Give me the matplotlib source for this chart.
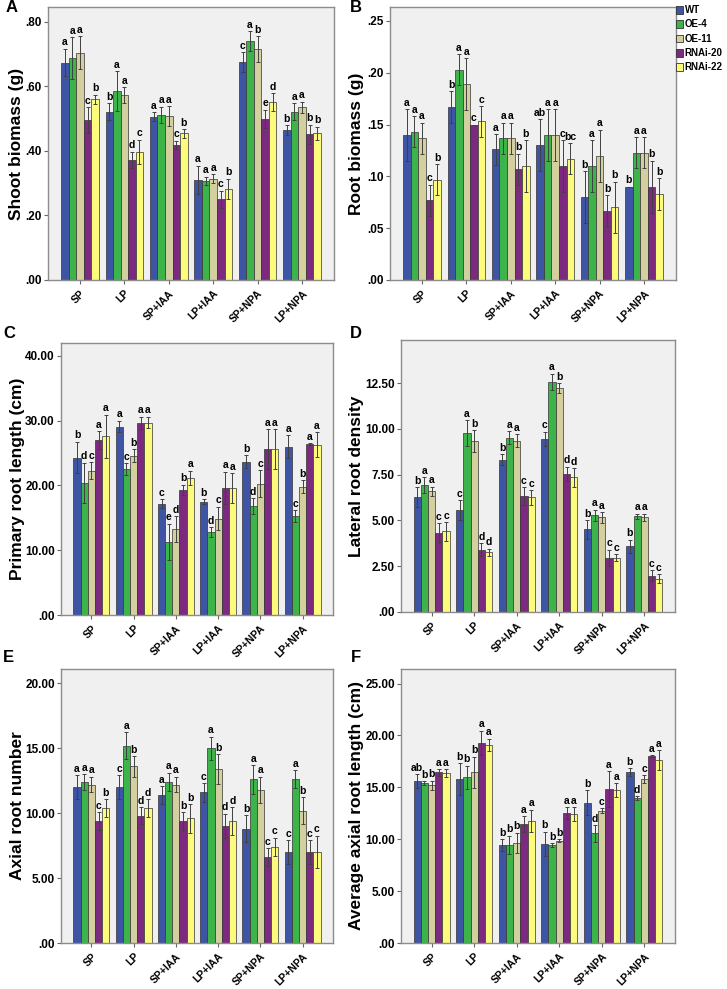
import numpy as np
import matplotlib
matplotlib.use("Agg")
import matplotlib.pyplot as plt
from matplotlib.ticker import FuncFormatter
from matplotlib.patches import Patch

plt.rcParams["font.family"] = ["Liberation Sans", "DejaVu Sans"]
plt.rcParams["font.weight"] = "bold"

groups = ["SP", "LP", "SP+IAA", "LP+IAA", "SP+NPA", "LP+NPA"]
lines = ["WT", "OE-4", "OE-11", "RNAi-20", "RNAi-22"]
colors = ["#3e55a6", "#3cb449", "#d4cf9e", "#7c2a7f", "#fcfb7c"]

# rows = treatment groups, columns = lines
shoot_mean = [[0.673, 0.686, 0.704, 0.495, 0.559],
              [0.521, 0.585, 0.572, 0.372, 0.397],
              [0.505, 0.511, 0.508, 0.418, 0.454],
              [0.310, 0.307, 0.314, 0.250, 0.283],
              [0.675, 0.739, 0.715, 0.499, 0.550],
              [0.464, 0.521, 0.534, 0.451, 0.454]]
shoot_err = [[0.043, 0.065, 0.050, 0.040, 0.014],
             [0.026, 0.062, 0.025, 0.025, 0.037],
             [0.014, 0.026, 0.030, 0.013, 0.013],
             [0.044, 0.013, 0.014, 0.026, 0.031],
             [0.031, 0.031, 0.039, 0.028, 0.028],
             [0.015, 0.026, 0.018, 0.030, 0.020]]
shoot_sig = [["a", "a", "a", "c", "b"], ["b", "a", "a", "d", "c"],
             ["a", "a", "a", "c", "b"], ["a", "a", "a", "c", "b"],
             ["c", "a", "b", "e", "d"], ["b", "a", "a", "b", "b"]]

root_mean = [[0.140, 0.143, 0.137, 0.077, 0.097],
             [0.167, 0.203, 0.189, 0.150, 0.153],
             [0.126, 0.137, 0.137, 0.107, 0.110],
             [0.130, 0.140, 0.140, 0.110, 0.117],
             [0.080, 0.110, 0.120, 0.067, 0.070],
             [0.090, 0.123, 0.123, 0.090, 0.083]]
root_err = [[0.025, 0.015, 0.015, 0.015, 0.015],
            [0.015, 0.015, 0.025, 0.000, 0.015],
            [0.015, 0.015, 0.015, 0.015, 0.025],
            [0.025, 0.025, 0.025, 0.025, 0.015],
            [0.025, 0.025, 0.025, 0.015, 0.025],
            [0.000, 0.015, 0.015, 0.025, 0.015]]
root_sig = [["a", "a", "a", "c", "b"], ["b", "a", "a", "c", "c"],
            ["a", "a", "a", "b", "b"], ["ab", "a", "a", "c", "bc"],
            ["b", "a", "a", "b", "b"], ["b", "a", "a", "b", "b"]]

primary_mean = [[24.3, 20.4, 22.3, 27.0, 27.6],
                [29.1, 22.5, 24.6, 29.65, 29.7],
                [17.2, 11.3, 13.3, 19.3, 21.2],
                [17.5, 12.8, 14.9, 19.6, 19.6],
                [23.7, 16.8, 20.3, 25.6, 25.6],
                [26.0, 15.3, 19.8, 26.4, 26.3]]
primary_err = [[2.45, 3.1, 1.3, 1.4, 3.3],
               [0.9, 0.9, 1.0, 1.0, 0.9],
               [0.7, 2.8, 2.0, 0.8, 1.1],
               [0.4, 0.8, 1.8, 2.5, 2.3],
               [1.0, 1.2, 2.1, 3.1, 3.1],
               [1.8, 0.9, 1.0, 0.15, 1.9]]
primary_sig = [["b", "d", "c", "a", "a"], ["a", "c", "b", "a", "a"],
               ["c", "e", "d", "b", "a"], ["b", "d", "c", "a", "a"],
               ["b", "d", "c", "a", "a"], ["a", "c", "b", "a", "a"]]

lateral_mean = [[6.26, 6.92, 6.59, 4.34, 4.40],
                [5.57, 9.76, 9.31, 3.41, 3.25],
                [8.30, 9.51, 9.36, 6.33, 6.26],
                [9.45, 12.57, 12.23, 7.54, 7.35],
                [4.51, 5.29, 5.16, 2.96, 2.96],
                [3.59, 5.22, 5.16, 1.97, 1.82]]
lateral_err = [[0.55, 0.45, 0.25, 0.50, 0.50],
               [0.55, 0.70, 0.60, 0.35, 0.20],
               [0.30, 0.35, 0.35, 0.50, 0.40],
               [0.40, 0.45, 0.27, 0.40, 0.50],
               [0.50, 0.30, 0.30, 0.45, 0.18],
               [0.35, 0.15, 0.20, 0.30, 0.25]]
lateral_sig = [["b", "a", "a", "c", "c"], ["c", "a", "b", "d", "d"],
               ["b", "a", "a", "c", "c"], ["c", "a", "b", "d", "d"],
               ["b", "a", "a", "c", "c"], ["b", "a", "a", "c", "c"]]

axial_mean = [[12.0, 12.4, 12.2, 9.38, 10.39],
              [12.0, 15.2, 13.6, 9.79, 10.39],
              [11.39, 12.4, 12.2, 9.38, 9.59],
              [11.59, 14.99, 13.39, 9.0, 9.38],
              [8.79, 12.6, 11.8, 6.6, 7.4],
              [7.0, 12.6, 10.18, 7.0, 7.0]]
axial_err = [[0.9, 0.6, 0.6, 0.7, 0.7],
             [0.9, 1.05, 0.8, 0.65, 0.67],
             [0.7, 0.7, 0.6, 0.7, 1.1],
             [0.7, 0.9, 1.15, 0.95, 1.1],
             [1.05, 1.1, 1.0, 0.7, 0.7],
             [0.9, 0.7, 1.05, 0.9, 1.25]]
axial_sig = [["a", "a", "a", "c", "b"], ["c", "a", "b", "d", "d"],
             ["a", "a", "a", "b", "b"], ["c", "a", "b", "d", "d"],
             ["b", "a", "a", "c", "c"], ["c", "a", "b", "c", "c"]]

avglen_mean = [[15.6, 15.4, 15.2, 16.43, 16.37],
               [15.79, 15.95, 16.46, 19.27, 19.07],
               [9.44, 9.44, 9.66, 11.47, 11.79],
               [9.54, 9.41, 9.86, 12.5, 12.44],
               [13.53, 10.57, 12.76, 14.85, 14.76],
               [16.49, 13.95, 15.79, 17.98, 17.65]]
avglen_err = [[0.65, 0.2, 0.45, 0.3, 0.4],
              [1.55, 1.15, 1.5, 1.2, 0.6],
              [0.55, 0.9, 0.95, 0.75, 1.05],
              [1.2, 0.2, 0.15, 0.6, 0.65],
              [1.2, 0.8, 0.25, 1.7, 0.65],
              [0.38, 0.22, 0.38, 0.1, 0.95]]
avglen_sig = [["ab", "b", "b", "a", "a"], ["b", "b", "b", "a", "a"],
              ["b", "b", "b", "a", "a"], ["b", "b", "b", "a", "a"],
              ["b", "d", "c", "a", "a"], ["b", "d", "c", "a", "a"]]

W, H = 727, 989
fig = plt.figure(figsize=(W / 100, H / 100), dpi=100)


def px_axes(left, top, right, bottom):
    return fig.add_axes([left / W, 1 - bottom / H, (right - left) / W, (bottom - top) / H])


def fmt(v, pos):
    s = f"{v:.2f}"
    if s.startswith("0"):
        s = s[1:]
    return s


def panel(ax, mean, err, sig, ymax, step, ylabel, label_x, letter, letter_xy):
    mean = np.array(mean)
    err = np.array(err)
    x = np.arange(len(groups))
    bw = 0.17
    for j in range(len(lines)):
        xs = x + (j - 2) * bw
        ax.bar(xs, mean[:, j], width=bw, color=colors[j], edgecolor="#333333",
               linewidth=0.5, zorder=2)
        ax.errorbar(xs, mean[:, j], yerr=err[:, j], fmt="none", ecolor="#404040",
                    elinewidth=0.7, capsize=1.2, capthick=0.7, zorder=3)
        for i in range(len(groups)):
            ax.annotate(sig[i][j], (xs[i], mean[i, j] + err[i, j]), xytext=(0, 1),
                        textcoords="offset points", ha="center", va="bottom",
                        fontsize=7.5, fontweight="bold", zorder=4)
    ax.set_xlim(-0.72, 5.72)
    ax.set_ylim(0, ymax)
    ax.set_yticks(np.arange(0, ymax + 1e-9, step))
    ax.yaxis.set_major_formatter(FuncFormatter(fmt))
    ax.set_xticks(x)
    ax.set_xticklabels(groups, rotation=45, ha="right", rotation_mode="anchor",
                       fontsize=7.5, fontweight="bold")
    ax.set_facecolor("#f0f0f0")
    for s in ax.spines.values():
        s.set_color("#8c8c8c")
        s.set_linewidth(1)
    ax.tick_params(axis="both", direction="out", length=3, color="#666666", pad=1.5)
    ax.tick_params(axis="y", labelsize=8.5)
    ax.tick_params(axis="x", pad=3)
    for t in ax.get_yticklabels():
        t.set_fontweight("bold")
    bb = ax.get_position()
    fig.text(label_x / W, (bb.y0 + bb.y1) / 2, ylabel, rotation=90, ha="center",
             va="center", fontsize=12.5, fontweight="bold")
    fig.text(letter_xy[0] / W, 1 - letter_xy[1] / H, letter, ha="center", va="center",
             fontsize=12, fontweight="bold")


axA = px_axes(48, 7, 334, 280)
panel(axA, shoot_mean, shoot_err, shoot_sig, 0.845, 0.2, "Shoot biomass (g)", 17, "A", (12, 8))
axB = px_axes(390, 7, 676, 280)
panel(axB, root_mean, root_err, root_sig, 0.2635, 0.05, "Root biomass (g)", 356, "B", (356, 8))
axC = px_axes(61, 343, 333, 615)
panel(axC, primary_mean, primary_err, primary_sig, 42, 10, "Primary root length (cm)", 18, "C", (9, 334))
axD = px_axes(401, 340, 675, 612)
panel(axD, lateral_mean, lateral_err, lateral_sig, 14.85, 2.5, "Lateral root density", 356, "D", (356, 334))
axE = px_axes(61, 669, 333, 943)
panel(axE, axial_mean, axial_err, axial_sig, 21.1, 5, "Axial root number", 18, "E", (8, 658))
axF = px_axes(401, 669, 675, 943)
panel(axF, avglen_mean, avglen_err, avglen_sig, 26.4, 5, "Average axial root length (cm)", 356, "F", (356, 658))

handles = [Patch(facecolor=c, edgecolor="#333333", linewidth=0.6) for c in colors]
fig.legend(handles, lines, loc="upper left", bbox_to_anchor=(676 / W, 1 - 5 / H),
           frameon=False, handlelength=0.75, handleheight=0.85,
           handletextpad=0.15, labelspacing=0.45, borderaxespad=0, borderpad=0,
           prop={"weight": "bold", "size": 7})

fig.savefig("out.png", dpi=100)
